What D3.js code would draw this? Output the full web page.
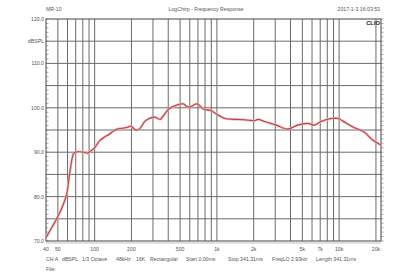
<!DOCTYPE html>
<html>
<head>
<meta charset="utf-8">
<script src="https://cdnjs.cloudflare.com/ajax/libs/d3/7.8.5/d3.min.js"></script>
<style>
  body { margin: 0; background: #fff; }
  text { font-family: "Liberation Sans", Arial, sans-serif; fill: #555; }
</style>
</head>
<body>
<script>
// frequency response
var freqs = [40, 45, 50, 55, 59, 62, 65, 67, 69, 75, 82, 88, 92, 100, 110, 120, 131, 143, 153, 168, 185, 197, 210, 217, 232, 261, 305, 345, 360, 412, 470, 530, 566, 604, 687, 781, 888, 1020, 1160, 1400, 1680, 2030, 2170, 2460, 3070, 3770, 4570, 5520, 6270, 7110, 8600, 9800, 11200, 13100, 15900, 18700, 22000]
var dbspl = [70.8, 73.2, 75.5, 78, 80.5, 84.5, 88.2, 89.6, 90.0, 90.1, 90.0, 89.8, 90.2, 91.0, 92.6, 93.4, 94.0, 94.8, 95.2, 95.4, 95.6, 95.9, 95.3, 95.0, 95.2, 97.1, 97.9, 97.4, 98.0, 99.9, 100.6, 100.9, 100.3, 100.2, 100.9, 99.7, 99.4, 98.4, 97.6, 97.4, 97.3, 97.1, 97.4, 96.9, 96.1, 95.2, 96.1, 96.5, 96.1, 96.9, 97.6, 97.6, 96.7, 95.6, 94.6, 92.8, 91.6]

var xTicks = [40, 50, 100, 200, 500, 1000, 2000, 5000, 7000, 10000, 20000]
var xTickLabels = ["40", "50", "100", "200", "500", "1k", "2k", "5k", "7k", "10k", "20k"]
var yLabelVals = [120, 115, 110, 100, 90, 80, 70]
var yLabels = ["120.0", "dBSPL", "110.0", "100.0", "90.0", "80.0", "70.0"]

var infoItems = ["CH A", "dBSPL", "1/3 Octave", "48kHz", "16K", "Rectangular", "Start 0.00ms", "Stop 341.31ms", "FreqLO 2.93Hz", "Length 341.31ms"]
var infoX = [46, 62, 82, 116, 136, 150, 186, 228, 272, 316]

var W = 395, H = 275
var pLeft = 46, pRight = 381, pTop = 19, pBottom = 241

var svg = d3.select("body").append("svg")
  .attr("width", W)
  .attr("height", H)

var x = d3.scaleLog().domain([40, 22000]).range([pLeft, pRight])
var y = d3.scaleLinear().domain([70, 120]).range([pBottom, pTop])

// grid lines, log decades
var gridF = []
;[10, 100, 1000, 10000].forEach(function(dec) {
  for (var k = 1; k < 10; k++) {
    var f = dec * k
    if (f > 40 && f < 22000) gridF.push(f)
  }
})

svg.append("g").selectAll("line")
  .data(gridF)
  .enter().append("line")
  .attr("x1", function(d) { return x(d) })
  .attr("x2", function(d) { return x(d) })
  .attr("y1", pTop)
  .attr("y2", pBottom)
  .attr("stroke", "#6a6a6a")
  .attr("stroke-width", 1)

svg.append("g").selectAll("line")
  .data(d3.range(75, 120, 5))
  .enter().append("line")
  .attr("x1", pLeft)
  .attr("x2", pRight)
  .attr("y1", function(d) { return y(d) })
  .attr("y2", function(d) { return y(d) })
  .attr("stroke", "#6a6a6a")
  .attr("stroke-width", 1)

// minor ticks, 1 dB
var minor = d3.range(70, 121, 1)
svg.append("g").selectAll("line")
  .data(minor)
  .enter().append("line")
  .attr("x1", pLeft)
  .attr("x2", pLeft + 2.5)
  .attr("y1", function(d) { return y(d) })
  .attr("y2", function(d) { return y(d) })
  .attr("stroke", "#777")
  .attr("stroke-width", 0.6)
svg.append("g").selectAll("line")
  .data(minor)
  .enter().append("line")
  .attr("x1", pRight)
  .attr("x2", pRight + 2.5)
  .attr("y1", function(d) { return y(d) })
  .attr("y2", function(d) { return y(d) })
  .attr("stroke", "#777")
  .attr("stroke-width", 0.6)

// frame
svg.append("rect")
  .attr("x", pLeft)
  .attr("y", pTop)
  .attr("width", pRight - pLeft)
  .attr("height", pBottom - pTop)
  .attr("fill", "none")
  .attr("stroke", "#555")
  .attr("stroke-width", 1.1)
svg.append("line")
  .attr("x1", pLeft).attr("x2", pRight)
  .attr("y1", pBottom + 2).attr("y2", pBottom + 2)
  .attr("stroke", "#999").attr("stroke-width", 0.6)

// curve
var line = d3.line()
  .x(function(d, i) { return x(freqs[i]) })
  .y(function(d) { return y(d) })
  .curve(d3.curveCatmullRom.alpha(0.5))

svg.append("path")
  .datum(dbspl)
  .attr("d", line)
  .attr("fill", "none")
  .attr("stroke", "#f0b8b8")
  .attr("stroke-width", 2.4)
svg.append("path")
  .datum(dbspl)
  .attr("d", line)
  .attr("fill", "none")
  .attr("stroke", "#bb4445")
  .attr("stroke-width", 1.1)

// y labels
svg.append("g").selectAll("text")
  .data(yLabelVals)
  .enter().append("text")
  .attr("x", pLeft - 2)
  .attr("y", function(d) { return y(d) + 2 })
  .attr("text-anchor", "end")
  .attr("font-size", 5.2)
  .text(function(d, i) { return yLabels[i] })

// x labels
svg.append("g").selectAll("text")
  .data(xTicks)
  .enter().append("text")
  .attr("x", function(d) { return x(d) })
  .attr("y", pBottom + 10)
  .attr("text-anchor", "middle")
  .attr("font-size", 5.2)
  .text(function(d, i) { return xTickLabels[i] })

// header
svg.append("text").attr("x", 46).attr("y", 11).attr("font-size", 5.2).text("MR-10")
svg.append("text").attr("x", 206).attr("y", 11).attr("font-size", 5.2)
  .attr("text-anchor", "middle").text("LogChirp - Frequency Response")
svg.append("text").attr("x", 380).attr("y", 11).attr("font-size", 5.2)
  .attr("text-anchor", "end").text("2017-1-3 16:03:53")

// CLIO mark
svg.append("text").attr("x", 380).attr("y", 24.5).attr("font-size", 5.8)
  .attr("font-weight", "bold").attr("text-anchor", "end")
  .style("fill", "#222").text("CLIO")

// info line
svg.append("g").selectAll("text")
  .data(infoItems)
  .enter().append("text")
  .attr("x", function(d, i) { return infoX[i] })
  .attr("y", 261)
  .attr("font-size", 5.2)
  .text(function(d) { return d })

svg.append("text").attr("x", 46).attr("y", 271).attr("font-size", 5.2).text("File:")
</script>
</body>
</html>
